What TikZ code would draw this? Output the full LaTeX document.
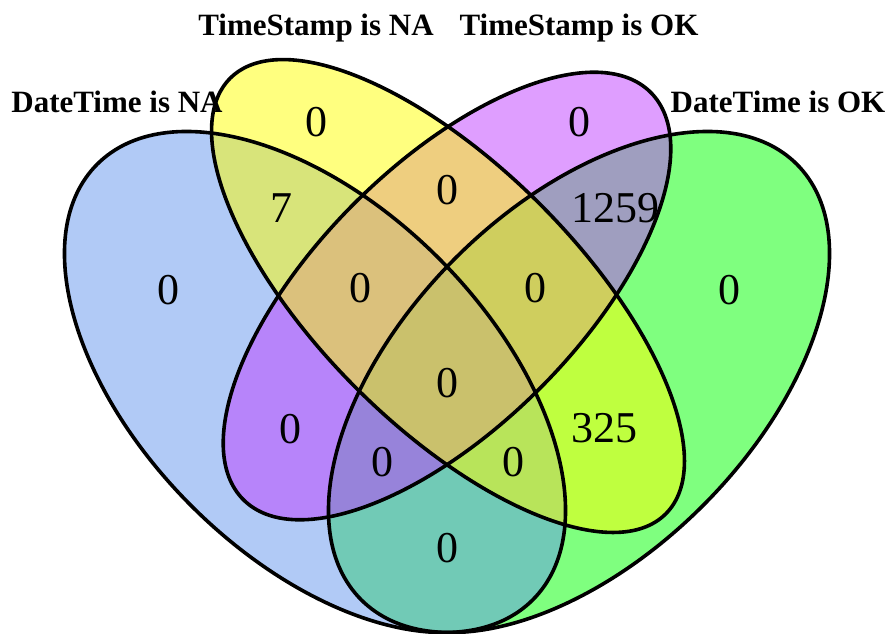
\documentclass[tikz,border=0pt]{standalone}
\usepackage{fontspec}
\setmainfont{Liberation Serif}
\definecolor{setblue}{RGB}{100,149,237}
\definecolor{setyellow}{RGB}{255,255,0}
\definecolor{setpurple}{RGB}{191,62,255}
\definecolor{setgreen}{RGB}{0,255,0}
\tikzset{
  setfill/.style={fill=#1, fill opacity=0.5, draw=none},
  setline/.style={draw=black, line width=3.6pt},
  count/.style={inner sep=0pt, font=\fontsize{44}{44}\selectfont},
  setlabel/.style={inner sep=0pt, anchor=base, font=\fontsize{31}{31}\selectfont\bfseries}
}
\begin{document}
\begin{tikzpicture}[x=1pt, y=-1pt]
\useasboundingbox (0,0) rectangle (891,633);
% the four sets, centre and rotation of each ellipse
\coordinate (cg) at (579,382);
\coordinate (cb) at (315,382);
\coordinate (cp) at (447,296);
\coordinate (cy) at (448,296);
% fills
\fill[setfill=setgreen, rotate around={45:(cg)}] (cg) ellipse (308pt and 175pt);
\fill[setfill=setblue, rotate around={-45:(cb)}] (cb) ellipse (308pt and 175pt);
\fill[setfill=setpurple, rotate around={45:(cp)}] (cp) ellipse (288pt and 131pt);
\fill[setfill=setyellow, rotate around={-45:(cy)}] (cy) ellipse (308pt and 130pt);
% outlines
\draw[setline, rotate around={45:(cg)}] (cg) ellipse (308pt and 175pt);
\draw[setline, rotate around={-45:(cb)}] (cb) ellipse (308pt and 175pt);
\draw[setline, rotate around={45:(cp)}] (cp) ellipse (288pt and 131pt);
\draw[setline, rotate around={-45:(cy)}] (cy) ellipse (308pt and 130pt);
% region counts
\node[count] (n1) at (168,290) {0};
\node[count] (n2) at (316,122) {0};
\node[count] (n3) at (579,122) {0};
\node[count] (n4) at (729,290) {0};
\node[count] (n5) at (281,208) {7};
\node[count] (n6) at (447,190) {0};
\node[count] (n7) at (615,208) {1259};
\node[count] (n8) at (360,288) {0};
\node[count] (n9) at (535,288) {0};
\node[count] (n10) at (447,383) {0};
\node[count] (n11) at (290,429) {0};
\node[count] (n12) at (604,428) {325};
\node[count] (n13) at (382,462) {0};
\node[count] (n14) at (513,462) {0};
\node[count] (n15) at (447,548) {0};
% set names
\node[setlabel] (l1) at (117,112) {DateTime is NA};
\node[setlabel] (l2) at (316,35) {TimeStamp is NA};
\node[setlabel] (l3) at (579,35) {TimeStamp is OK};
\node[setlabel] (l4) at (778,112) {DateTime is OK};
\end{tikzpicture}
\end{document}
